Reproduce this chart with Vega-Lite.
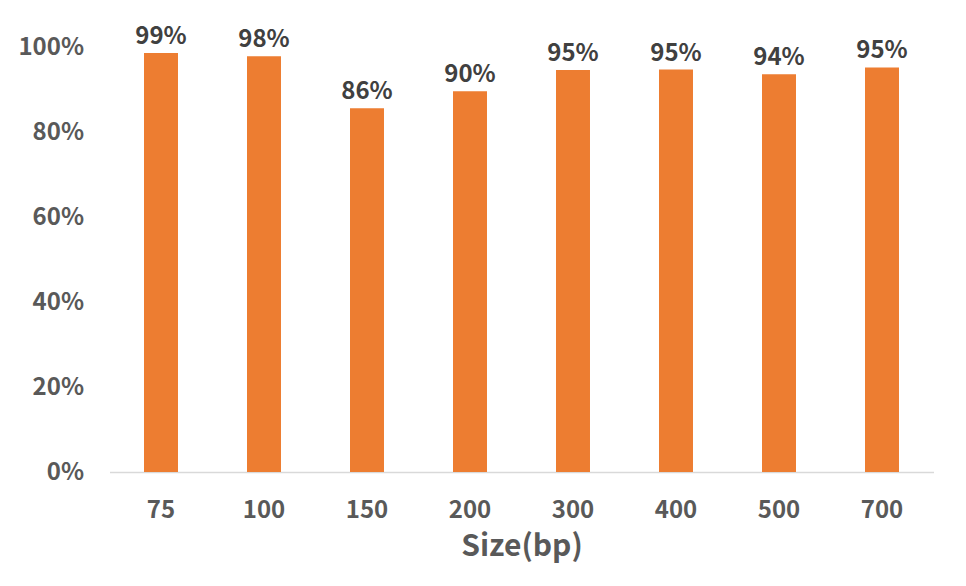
{
  "$schema": "https://vega.github.io/schema/vega-lite/v6.json",
  "autosize": "none",
  "width": 824,
  "height": 425,
  "padding": {"left": 109.5, "top": 47, "right": 32.5, "bottom": 113.5},
  "background": "white",
  "config": {
    "view": {"stroke": null},
    "font": "Noto Sans CJK SC"
  },
  "data": {
    "values": [
      {"size": "75", "rate": 0.986},
      {"size": "100", "rate": 0.978},
      {"size": "150", "rate": 0.856},
      {"size": "200", "rate": 0.896},
      {"size": "300", "rate": 0.946},
      {"size": "400", "rate": 0.947},
      {"size": "500", "rate": 0.936},
      {"size": "700", "rate": 0.952}
    ]
  },
  "encoding": {
    "x": {
      "field": "size",
      "type": "nominal",
      "sort": null,
      "scale": {"paddingInner": 0.67, "paddingOuter": 0.335},
      "axis": {
        "title": "Size(bp)",
        "titleFontSize": 30,
        "titleFontWeight": "bold",
        "titleColor": "#595959",
        "titlePadding": 9,
        "labelAngle": 0,
        "labelFontSize": 24,
        "labelFontWeight": "bold",
        "labelColor": "#595959",
        "labelPadding": 26,
        "ticks": false,
        "domainColor": "#D9D9D9",
        "domainWidth": 1.5
      }
    },
    "y": {
      "field": "rate",
      "type": "quantitative",
      "scale": {"domain": [0, 1], "nice": false},
      "axis": {
        "title": null,
        "format": ".0%",
        "values": [0, 0.2, 0.4, 0.6, 0.8, 1],
        "labelFontSize": 24,
        "labelFontWeight": "bold",
        "labelColor": "#595959",
        "labelPadding": 26,
        "ticks": false,
        "domain": false,
        "grid": false
      }
    }
  },
  "layer": [
    {"mark": {"type": "bar", "color": "#ED7D31"}},
    {
      "mark": {"type": "text", "baseline": "bottom", "dy": -4, "fontSize": 24, "fontWeight": "bold", "color": "#404040"},
      "encoding": {"text": {"field": "rate", "type": "quantitative", "format": ".0%"}}
    }
  ]
}
